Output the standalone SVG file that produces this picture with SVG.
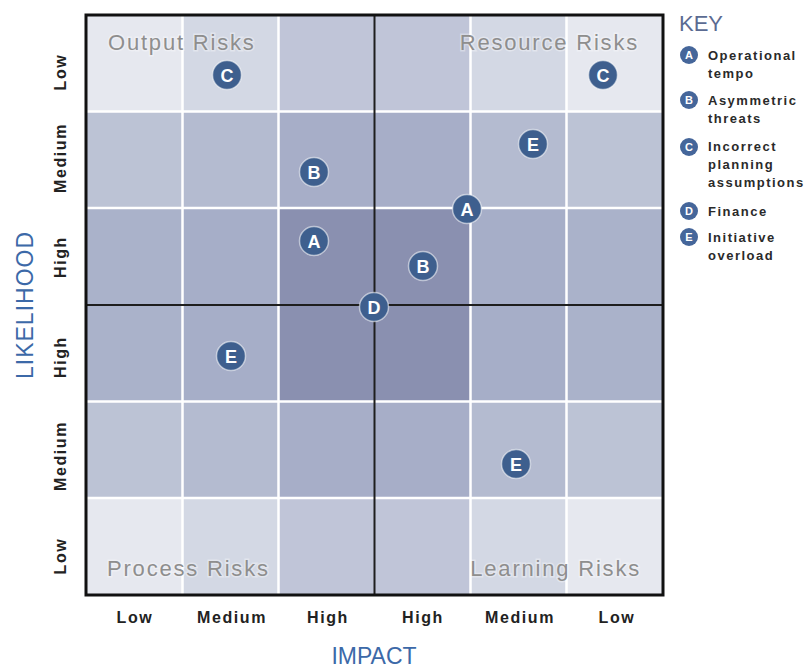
<svg xmlns="http://www.w3.org/2000/svg" width="809" height="669" viewBox="0 0 809 669">
  <defs>
    <style>
      .cell-l0 { fill: #e6e8ef; }
      .cell-l1 { fill: #d3d8e4; }
      .cell-l2 { fill: #c0c5d8; }
      .cell-m0 { fill: #bcc3d5; }
      .cell-m1 { fill: #b4bbd0; }
      .cell-m2 { fill: #a7aec8; }
      .cell-h0 { fill: #aab2ca; }
      .cell-h1 { fill: #a6aec8; }
      .cell-h2 { fill: #8a90b0; }
      .grid-white { stroke: #ffffff; stroke-width: 2.5; fill: none; }
      .axis-cross { stroke: #1e1e1e; stroke-width: 2; fill: none; }
      .frame { stroke: #111111; stroke-width: 3; fill: none; }
      .quad { font-family: "Liberation Sans", Arial, sans-serif; font-size: 22px; fill: #8e8e8e; letter-spacing: 1.8px; stroke: #ffffff; stroke-opacity: 0.35; stroke-width: 3; paint-order: stroke; }
      .tick { font-family: "Liberation Sans", Arial, sans-serif; font-size: 16px; font-weight: bold; fill: #222222; letter-spacing: 1.6px; text-anchor: middle; }
      .axis-title { font-family: "Liberation Sans", Arial, sans-serif; font-size: 23px; fill: #3c69a8; text-anchor: middle; }
      .marker circle { fill: #3e5f8e; stroke: #ffffff; stroke-opacity: 0.55; stroke-width: 1.5; }
      .marker text { font-family: "Liberation Sans", Arial, sans-serif; font-size: 18px; font-weight: bold; fill: #ffffff; text-anchor: middle; }
      .key-title { font-family: "Liberation Sans", Arial, sans-serif; font-size: 22px; fill: #5b6b92; }
      .key-dot circle { fill: #45669a; }
      .key-dot text { font-family: "Liberation Sans", Arial, sans-serif; font-size: 11px; font-weight: bold; fill: #ffffff; text-anchor: middle; }
      .key-text { font-family: "Liberation Sans", Arial, sans-serif; font-size: 13px; font-weight: bold; fill: #2a2a2a; letter-spacing: 1.5px; }
    </style>
  </defs>

  <rect width="809" height="669" fill="#ffffff"/>

  <!-- risk matrix cells: shade deepens toward high impact / high likelihood -->
  <g id="cells">
    <!-- row 0: low likelihood -->
    <rect class="cell-l0" x="86" y="15" width="96.5" height="96.5"/>
    <rect class="cell-l1" x="182.5" y="15" width="96" height="96.5"/>
    <rect class="cell-l2" x="278.5" y="15" width="96" height="96.5"/>
    <rect class="cell-l2" x="374.5" y="15" width="96" height="96.5"/>
    <rect class="cell-l1" x="470.5" y="15" width="96" height="96.5"/>
    <rect class="cell-l0" x="566.5" y="15" width="96.5" height="96.5"/>
    <!-- row 1: medium likelihood -->
    <rect class="cell-m0" x="86" y="111.5" width="96.5" height="96.5"/>
    <rect class="cell-m1" x="182.5" y="111.5" width="96" height="96.5"/>
    <rect class="cell-m2" x="278.5" y="111.5" width="96" height="96.5"/>
    <rect class="cell-m2" x="374.5" y="111.5" width="96" height="96.5"/>
    <rect class="cell-m1" x="470.5" y="111.5" width="96" height="96.5"/>
    <rect class="cell-m0" x="566.5" y="111.5" width="96.5" height="96.5"/>
    <!-- row 2: high likelihood -->
    <rect class="cell-h0" x="86" y="208" width="96.5" height="97"/>
    <rect class="cell-h1" x="182.5" y="208" width="96" height="97"/>
    <rect class="cell-h2" x="278.5" y="208" width="96" height="97"/>
    <rect class="cell-h2" x="374.5" y="208" width="96" height="97"/>
    <rect class="cell-h1" x="470.5" y="208" width="96" height="97"/>
    <rect class="cell-h0" x="566.5" y="208" width="96.5" height="97"/>
    <!-- row 3: high likelihood -->
    <rect class="cell-h0" x="86" y="305" width="96.5" height="96.5"/>
    <rect class="cell-h1" x="182.5" y="305" width="96" height="96.5"/>
    <rect class="cell-h2" x="278.5" y="305" width="96" height="96.5"/>
    <rect class="cell-h2" x="374.5" y="305" width="96" height="96.5"/>
    <rect class="cell-h1" x="470.5" y="305" width="96" height="96.5"/>
    <rect class="cell-h0" x="566.5" y="305" width="96.5" height="96.5"/>
    <!-- row 4: medium likelihood -->
    <rect class="cell-m0" x="86" y="401.5" width="96.5" height="96.5"/>
    <rect class="cell-m1" x="182.5" y="401.5" width="96" height="96.5"/>
    <rect class="cell-m2" x="278.5" y="401.5" width="96" height="96.5"/>
    <rect class="cell-m2" x="374.5" y="401.5" width="96" height="96.5"/>
    <rect class="cell-m1" x="470.5" y="401.5" width="96" height="96.5"/>
    <rect class="cell-m0" x="566.5" y="401.5" width="96.5" height="96.5"/>
    <!-- row 5: low likelihood -->
    <rect class="cell-l0" x="86" y="498" width="96.5" height="97"/>
    <rect class="cell-l1" x="182.5" y="498" width="96" height="97"/>
    <rect class="cell-l2" x="278.5" y="498" width="96" height="97"/>
    <rect class="cell-l2" x="374.5" y="498" width="96" height="97"/>
    <rect class="cell-l1" x="470.5" y="498" width="96" height="97"/>
    <rect class="cell-l0" x="566.5" y="498" width="96.5" height="97"/>
  </g>

  <!-- white cell separators, quadrant cross and frame -->
  <g id="grid">
    <path class="grid-white" d="M182.5 15V595M278.5 15V595M470.5 15V595M566.5 15V595M86 111.5H663M86 208H663M86 401.5H663M86 498H663"/>
    <path class="axis-cross" d="M374.5 15V595M86 305H663"/>
    <rect class="frame" x="86" y="15" width="577" height="580"/>
  </g>

  <!-- quadrant captions -->
  <g id="quadrants">
    <text class="quad" x="108" y="50">Output Risks</text>
    <text class="quad" x="639" y="50" text-anchor="end">Resource Risks</text>
    <text class="quad" x="107" y="576">Process Risks</text>
    <text class="quad" x="641" y="576" text-anchor="end">Learning Risks</text>
  </g>

  <!-- risk markers -->
  <g id="risk-C-1" class="marker"><circle cx="227" cy="75" r="14.5"/><text x="227" y="81.5">C</text></g>
  <g id="risk-C-2" class="marker"><circle cx="603" cy="75" r="14.5"/><text x="603" y="81.5">C</text></g>
  <g id="risk-E-1" class="marker"><circle cx="533" cy="144" r="14.5"/><text x="533" y="150.5">E</text></g>
  <g id="risk-B-1" class="marker"><circle cx="314" cy="172" r="14.5"/><text x="314" y="178.5">B</text></g>
  <g id="risk-A-1" class="marker"><circle cx="467" cy="209" r="14.5"/><text x="467" y="215.5">A</text></g>
  <g id="risk-A-2" class="marker"><circle cx="314" cy="241" r="14.5"/><text x="314" y="247.5">A</text></g>
  <g id="risk-B-2" class="marker"><circle cx="423" cy="266" r="14.5"/><text x="423" y="272.5">B</text></g>
  <g id="risk-D-1" class="marker"><circle cx="374" cy="307" r="14.5"/><text x="374" y="313.5">D</text></g>
  <g id="risk-E-2" class="marker"><circle cx="231" cy="356" r="14.5"/><text x="231" y="362.5">E</text></g>
  <g id="risk-E-3" class="marker"><circle cx="516" cy="464" r="14.5"/><text x="516" y="470.5">E</text></g>

  <!-- impact axis -->
  <g id="impact-axis">
    <text class="tick" x="135" y="623">Low</text>
    <text class="tick" x="232" y="623">Medium</text>
    <text class="tick" x="328" y="623">High</text>
    <text class="tick" x="423" y="623">High</text>
    <text class="tick" x="520" y="623">Medium</text>
    <text class="tick" x="617" y="623">Low</text>
    <text class="axis-title" x="374" y="664" font-size="22">IMPACT</text>
  </g>

  <!-- likelihood axis -->
  <g id="likelihood-axis">
    <text class="tick" transform="translate(66 72) rotate(-90)">Low</text>
    <text class="tick" transform="translate(66 158) rotate(-90)">Medium</text>
    <text class="tick" transform="translate(66 257) rotate(-90)">High</text>
    <text class="tick" transform="translate(66 357) rotate(-90)">High</text>
    <text class="tick" transform="translate(66 456) rotate(-90)">Medium</text>
    <text class="tick" transform="translate(66 556) rotate(-90)">Low</text>
    <text class="axis-title" transform="translate(33 305) rotate(-90)" letter-spacing="1">LIKELIHOOD</text>
  </g>

  <!-- key -->
  <g id="key">
    <text class="key-title" x="679" y="31">KEY</text>
    <g id="key-A"><g class="key-dot"><circle cx="689" cy="55" r="9"/><text x="689" y="59">A</text></g>
      <text class="key-text" x="708" y="60">Operational</text><text class="key-text" x="708" y="78">tempo</text></g>
    <g id="key-B"><g class="key-dot"><circle cx="689" cy="100" r="9"/><text x="689" y="104">B</text></g>
      <text class="key-text" x="708" y="105">Asymmetric</text><text class="key-text" x="708" y="123">threats</text></g>
    <g id="key-C"><g class="key-dot"><circle cx="689" cy="147" r="9"/><text x="689" y="151">C</text></g>
      <text class="key-text" x="708" y="151">Incorrect</text><text class="key-text" x="708" y="169">planning</text><text class="key-text" x="708" y="187">assumptions</text></g>
    <g id="key-D"><g class="key-dot"><circle cx="689" cy="211" r="9"/><text x="689" y="215">D</text></g>
      <text class="key-text" x="708" y="216">Finance</text></g>
    <g id="key-E"><g class="key-dot"><circle cx="689" cy="237" r="9"/><text x="689" y="241">E</text></g>
      <text class="key-text" x="708" y="242">Initiative</text><text class="key-text" x="708" y="260">overload</text></g>
  </g>
</svg>
